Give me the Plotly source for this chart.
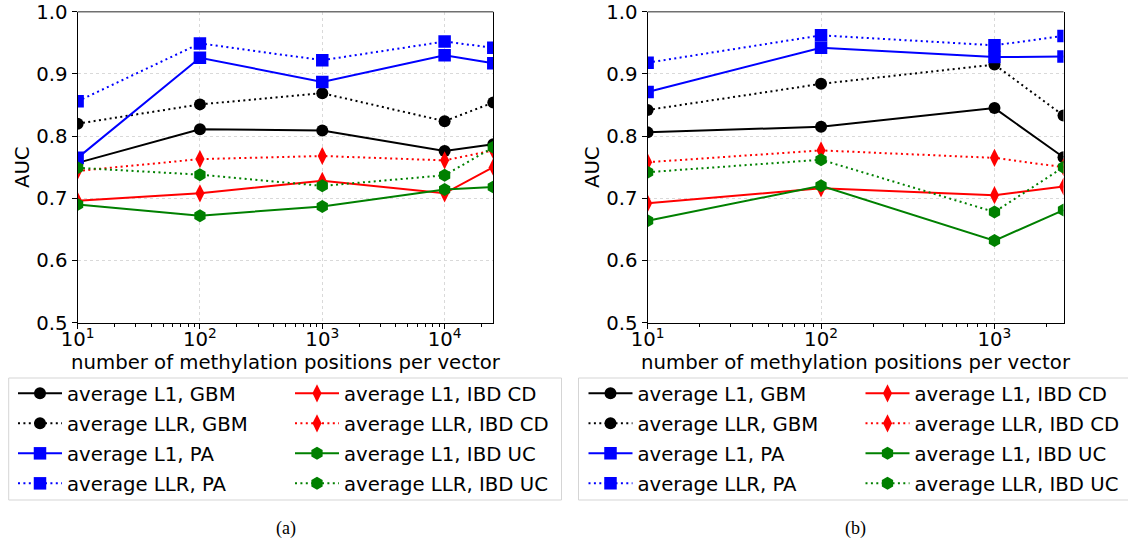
import math
import plotly.graph_objects as go

# ---------------- data ----------------
x_a = [10, 100, 1000, 10000, 25000]
x_b = [10, 100, 1000, 2500]

a_l1_gbm = [0.757, 0.811, 0.809, 0.776, 0.787]
a_llr_gbm = [0.820, 0.851, 0.869, 0.824, 0.854]
a_l1_pa = [0.765, 0.926, 0.887, 0.930, 0.917]
a_llr_pa = [0.856, 0.949, 0.922, 0.952, 0.942]
a_l1_cd = [0.696, 0.708, 0.728, 0.708, 0.750]
a_llr_cd = [0.744, 0.763, 0.768, 0.761, 0.777]
a_l1_uc = [0.690, 0.672, 0.687, 0.714, 0.718]
a_llr_uc = [0.749, 0.738, 0.720, 0.737, 0.782]

b_l1_gbm = [0.806, 0.815, 0.845, 0.766]
b_llr_gbm = [0.842, 0.884, 0.915, 0.833]
b_l1_pa = [0.871, 0.942, 0.927, 0.928]
b_llr_pa = [0.918, 0.962, 0.946, 0.961]
b_l1_cd = [0.692, 0.716, 0.705, 0.719]
b_llr_cd = [0.758, 0.777, 0.765, 0.750]
b_l1_uc = [0.664, 0.720, 0.632, 0.681]
b_llr_uc = [0.742, 0.762, 0.678, 0.750]

names = ["average L1, GBM", "average LLR, GBM", "average L1, PA", "average LLR, PA",
         "average L1, IBD CD", "average LLR, IBD CD", "average L1, IBD UC", "average LLR, IBD UC"]
colors = ["#000000", "#000000", "#0000ff", "#0000ff", "#ff0000", "#ff0000", "#008000", "#008000"]
symbols = ["circle", "circle", "square", "square", "diamond-tall", "diamond-tall", "hexagon", "hexagon"]
sizes = [12, 12, 12.5, 12.5, 13, 13, 13, 13]
dashes = ["solid", "2px,3.4px"] * 4

series_a = [a_l1_gbm, a_llr_gbm, a_l1_pa, a_llr_pa, a_l1_cd, a_llr_cd, a_l1_uc, a_llr_uc]
series_b = [b_l1_gbm, b_llr_gbm, b_l1_pa, b_llr_pa, b_l1_cd, b_llr_cd, b_l1_uc, b_llr_uc]

xtick_vals_a = [10, 100, 1000, 10000]
xtick_text_a = ["10<sup>1</sup>", "10<sup>2</sup>", "10<sup>3</sup>", "10<sup>4</sup>"]
xtick_vals_b = [10, 100, 1000]
xtick_text_b = ["10<sup>1</sup>", "10<sup>2</sup>", "10<sup>3</sup>"]

W, H = 1128, 541
FONT = "DejaVu Sans"
FS = 19.7


def px(x):
    return x / W


def py(y):
    return 1 - y / H


fig = go.Figure()

legend_names = [["legend", "legend2"], ["legend3", "legend4"]]
for p, (xs, series, xa, ya) in enumerate([(x_a, series_a, "x", "y"), (x_b, series_b, "x2", "y2")]):
    for i, vals in enumerate(series):
        col = 0 if i < 4 else 1
        fig.add_trace(go.Scatter(
            x=xs, y=vals, name=names[i], mode="lines+markers",
            xaxis=xa, yaxis=ya,
            line=dict(color=colors[i], width=2, dash=dashes[i]),
            marker=dict(symbol=symbols[i], size=sizes[i], color=colors[i], line=dict(width=0)),
            legend=legend_names[p][col], legendgroup=f"g{p}_{i}", legendrank=i,
            showlegend=True,
        ))

# ---------------- axes ----------------
LEFT_A, RIGHT_A = 77.6, 493.3
LEFT_B, RIGHT_B = 647.6, 1063.5
TOP, BOT = 11.7, 322.7


def minor_vals(maxv):
    out = []
    d = 10
    while d < maxv:
        for k in range(2, 10):
            v = k * d
            if v <= maxv:
                out.append(v)
        d *= 10
    return out


common_x = dict(
    type="log", showline=True, linecolor="black", linewidth=1.1, mirror=False,
    ticks="outside", ticklen=5, tickwidth=1.1, tickcolor="black",
    showgrid=True, gridcolor="#d9d9d9", griddash="dot", gridwidth=1,
    tickfont=dict(family=FONT, size=FS, color="black"), zeroline=False,
    tickmode="array", automargin=False, ticklabelstandoff=-6,
    title=dict(text="number of methylation positions per vector",
               font=dict(family=FONT, size=FS, color="black"), standoff=4),
)
common_y = dict(
    range=[0.5, 1.0], dtick=0.1, tick0=0.5, tickformat=".1f",
    showline=True, linecolor="black", linewidth=1.1, mirror=True,
    ticks="outside", ticklen=5, tickwidth=1.1, tickcolor="black",
    showgrid=True, gridcolor="#d9d9d9", griddash="dot", gridwidth=1,
    tickfont=dict(family=FONT, size=FS, color="black"), zeroline=False,
    automargin=False,
    title=dict(text="AUC", font=dict(family=FONT, size=FS, color="black"), standoff=1),
)

fig.update_layout(
    xaxis=dict(common_x, domain=[px(LEFT_A), px(RIGHT_A)], anchor="y",
               range=[1, math.log10(25000)], tickvals=xtick_vals_a, ticktext=xtick_text_a,
               minor=dict(tickmode="array", tickvals=minor_vals(25000), ticks="outside",
                          ticklen=3, tickwidth=0.9, tickcolor="black", showgrid=False)),
    yaxis=dict(common_y, domain=[py(BOT), py(TOP)], anchor="x"),
    xaxis2=dict(common_x, domain=[px(LEFT_B), px(RIGHT_B)], anchor="y2",
                range=[1, math.log10(2500)], tickvals=xtick_vals_b, ticktext=xtick_text_b,
                minor=dict(tickmode="array", tickvals=minor_vals(2500), ticks="outside",
                           ticklen=3, tickwidth=0.9, tickcolor="black", showgrid=False)),
    yaxis2=dict(common_y, domain=[py(BOT), py(TOP)], anchor="x2"),
)

# ---------------- legends ----------------
leg_common = dict(orientation="v", xanchor="left", yanchor="top", bgcolor="rgba(0,0,0,0)",
                  borderwidth=0, font=dict(family=FONT, size=FS, color="black"),
                  itemwidth=44, tracegroupgap=1.4, itemclick=False, itemdoubleclick=False)
LEG_TOP = 374
fig.update_layout(
    legend=dict(leg_common, x=px(13), y=py(LEG_TOP)),
    legend2=dict(leg_common, x=px(290), y=py(LEG_TOP)),
    legend3=dict(leg_common, x=px(583.5), y=py(LEG_TOP)),
    legend4=dict(leg_common, x=px(860.5), y=py(LEG_TOP)),
)

shapes = []
for bx0, bx1 in [(8.7, 561.5), (578.5, 1132.5)]:
    shapes.append(dict(type="rect", xref="paper", yref="paper",
                       x0=px(bx0), x1=px(bx1), y0=py(500), y1=py(378),
                       line=dict(color="#d5d5d5", width=1), fillcolor="rgba(0,0,0,0)", layer="below"))
for xr, yr in [("x domain", "y domain"), ("x2 domain", "y2 domain")]:
    shapes.append(dict(type="line", xref=xr, yref=yr, x0=0, x1=1, y0=1, y1=1,
                       line=dict(color="#707070", width=1.6)))

annotations = [
    dict(text="(a)", x=px(285.5), y=py(528), xref="paper", yref="paper", showarrow=False,
         xanchor="center", yanchor="middle", font=dict(family="Liberation Serif", size=18, color="black")),
    dict(text="(b)", x=px(855.5), y=py(528), xref="paper", yref="paper", showarrow=False,
         xanchor="center", yanchor="middle", font=dict(family="Liberation Serif", size=18, color="black")),
]

fig.update_layout(
    width=W, height=H, autosize=False,
    margin=dict(l=0, r=0, t=0, b=0, autoexpand=False),
    paper_bgcolor="white", plot_bgcolor="white",
    shapes=shapes, annotations=annotations,
    font=dict(family=FONT, size=FS, color="black"),
)

fig.write_html("out.html")
